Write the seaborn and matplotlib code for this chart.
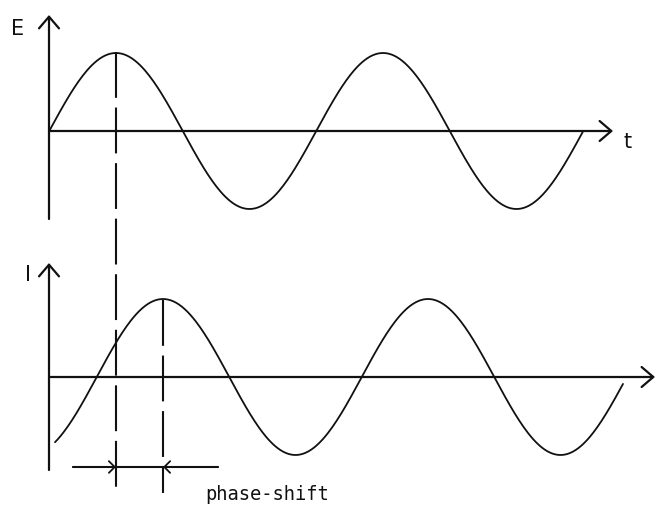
import numpy as np
import pandas as pd
import matplotlib
matplotlib.use("Agg")
import matplotlib.pyplot as plt
import seaborn as sns

# values (pixel coordinates, y grows downwards)
panels = ["E", "I"]
axis_x = [49, 49]
axis_top = [15, 263]
axis_bottom = [219, 470]
baseline_y = [131, 377]
baseline_end = [613, 655]
curve_start = [49, 55]
curve_end = [583, 623]
amplitude = [78, 78]
period = [267, 265]
peak_x = [116, 163]
label_pos = [(18, 29), (28, 275)]

t_label_pos = (628, 142)
dash_x = [116, 163]
dash_top = [52, 300]
dash_bottom = [493, 493]
shift_line_y = 467
shift_line_span = [73, 218]
shift_text_pos = (205, 494)

sns.set_style("white")
plt.rcParams["lines.scale_dashes"] = False

fig = plt.figure(figsize=(6.62, 5.05), dpi=100)
ax = fig.add_axes([0, 0, 1, 1])
ax.set_xlim(0, 662)
ax.set_ylim(505, 0)
ax.axis("off")

ink = "#111111"

for k in range(2):
    # vertical axis with open arrow head
    ax.annotate("", xy=(axis_x[k], axis_top[k]), xytext=(axis_x[k], axis_bottom[k]),
                arrowprops=dict(arrowstyle="->,head_length=0.35,head_width=0.3",
                                lw=1.6, color=ink, shrinkA=0, shrinkB=0, mutation_scale=24))
    # horizontal axis
    ax.annotate("", xy=(baseline_end[k], baseline_y[k]), xytext=(axis_x[k], baseline_y[k]),
                arrowprops=dict(arrowstyle="->,head_length=0.35,head_width=0.3",
                                lw=1.6, color=ink, shrinkA=0, shrinkB=0, mutation_scale=24))
    # the wave
    xs = np.linspace(curve_start[k], curve_end[k], 400)
    ys = baseline_y[k] - amplitude[k] * np.cos(2 * np.pi * (xs - peak_x[k]) / period[k])
    df = pd.DataFrame({"x": xs, "y": ys})
    sns.lineplot(data=df, x="x", y="y", ax=ax, color=ink, lw=1.3, sort=False)
    ax.text(label_pos[k][0], label_pos[k][1], panels[k], fontsize=15,
            ha="center", va="center", color=ink)

ax.set_xlim(0, 662)
ax.set_ylim(505, 0)
ax.set_xlabel("")
ax.set_ylabel("")

ax.text(t_label_pos[0], t_label_pos[1], "t", fontsize=15, ha="center", va="center", color=ink)

# dashed markers at the two peaks
for k in range(2):
    ax.plot([dash_x[k], dash_x[k]], [dash_top[k], dash_bottom[k]], color=ink, lw=1.5,
            dashes=(33, 7))

# phase-shift bar with inward arrow heads
ax.plot(shift_line_span, [shift_line_y, shift_line_y], color=ink, lw=1.5)
ax.annotate("", xy=(dash_x[0], shift_line_y), xytext=(shift_line_span[0], shift_line_y),
            arrowprops=dict(arrowstyle="->,head_length=0.3,head_width=0.3",
                            lw=1.3, color=ink, shrinkA=0, shrinkB=0, mutation_scale=14))
ax.annotate("", xy=(dash_x[1], shift_line_y), xytext=(shift_line_span[1], shift_line_y),
            arrowprops=dict(arrowstyle="->,head_length=0.3,head_width=0.3",
                            lw=1.3, color=ink, shrinkA=0, shrinkB=0, mutation_scale=14))
ax.text(shift_text_pos[0], shift_text_pos[1], "phase-shift", fontsize=13.5,
        family="DejaVu Sans Mono", ha="left", va="center", color=ink)

fig.savefig("out.png", dpi=100, facecolor="white")
